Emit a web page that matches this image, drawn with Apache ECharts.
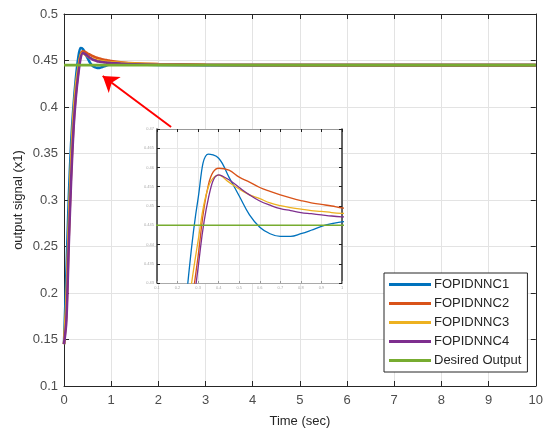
<!DOCTYPE html>
<html>
<head>
<meta charset="utf-8">
<script src="https://cdn.jsdelivr.net/npm/echarts@6/dist/echarts.min.js"></script>
<style>
  html, body { margin: 0; padding: 0; background: #fff; }
  #chart { width: 546px; height: 436px; }
</style>
</head>
<body>
<div id="chart"></div>
<script>
const time = [0, 0.05, 0.1, 0.15, 0.2, 0.25, 0.3, 0.35, 0.4, 0.45, 0.5, 0.55, 0.6, 0.65, 0.7, 0.75, 0.8, 0.85, 0.9, 0.95, 1.0, 1.2, 1.5, 2, 3, 5, 10];
const fopid1 = [0.145, 0.22, 0.30, 0.36, 0.40, 0.43, 0.452, 0.4635, 0.4624, 0.4575, 0.4526, 0.4477, 0.4445, 0.4428, 0.4421, 0.4421, 0.4428, 0.4437, 0.4447, 0.4454, 0.4459, 0.4462, 0.4458, 0.4453, 0.445, 0.445, 0.445];
const fopid2 = [0.145, 0.18, 0.26, 0.33, 0.38, 0.415, 0.437, 0.4555, 0.4598, 0.4593, 0.4575, 0.4562, 0.4548, 0.4538, 0.4529, 0.4521, 0.4514, 0.4508, 0.4504, 0.45, 0.4495, 0.4482, 0.447, 0.4462, 0.4455, 0.445, 0.445];
const fopid3 = [0.145, 0.19, 0.27, 0.34, 0.39, 0.422, 0.441, 0.455, 0.458, 0.4562, 0.4544, 0.4529, 0.4519, 0.4508, 0.4501, 0.4496, 0.4492, 0.4488, 0.4486, 0.4483, 0.4481, 0.4475, 0.4466, 0.446, 0.4454, 0.445, 0.445];
const fopid4 = [0.145, 0.17, 0.25, 0.32, 0.375, 0.41, 0.434, 0.452, 0.4581, 0.4568, 0.4548, 0.4529, 0.4513, 0.4502, 0.4493, 0.4488, 0.4483, 0.448, 0.4477, 0.4474, 0.4472, 0.4466, 0.4459, 0.4455, 0.4452, 0.445, 0.445];
const desiredTime = [0, 10];
const desired = [0.445, 0.445];

const names = ['FOPIDNNC1', 'FOPIDNNC2', 'FOPIDNNC3', 'FOPIDNNC4', 'Desired Output'];
const colors = ['#0072BD', '#D95319', '#EDB120', '#7E2F8E', '#77AC30'];

// arrow annotation, in data units (from, to)
const arrowFrom = [2.27, 0.3785];
const arrowTo = [0.82, 0.4333];

const font = "'Liberation Sans', Arial, sans-serif";
const axisColor = '#262626';
const gridColor = '#e3e3e3';

const pairs = (xs, ys) => xs.map((x, i) => [x, ys[i]]);
const curves = [
  pairs(time, fopid1),
  pairs(time, fopid2),
  pairs(time, fopid3),
  pairs(time, fopid4),
  pairs(desiredTime, desired),
];

const chart = echarts.init(document.getElementById('chart'));

const mainAxisBase = {
  type: 'value',
  axisLine: { show: true, onZero: false, lineStyle: { color: axisColor, width: 1 } },
  axisTick: { show: true, inside: true, length: 5, lineStyle: { color: axisColor } },
};
const insetAxisBase = {
  type: 'value',
  gridIndex: 1,
  z: 4,
  axisLine: { show: true, onZero: false, lineStyle: { color: '#333', width: 1.5 } },
  axisTick: { show: true, inside: true, length: 3, lineStyle: { color: '#222' } },
};

const series = [];
curves.forEach((data, i) => {
  series.push({
    name: names[i],
    type: 'line',
    xAxisIndex: 0,
    yAxisIndex: 0,
    data,
    smooth: 0.3,
    showSymbol: false,
    silent: true,
    z: 2,
    lineStyle: { color: colors[i], width: 2.6 },
    itemStyle: { color: colors[i] },
  });
});
// arrow on the main axes
series[4].markLine = {
  silent: true,
  symbol: ['none', 'arrow'],
  symbolSize: 15,
  label: { show: false },
  lineStyle: { color: '#ff0000', width: 2, type: 'solid' },
  data: [[{ coord: arrowFrom }, { coord: arrowTo }]],
};
// zoomed inset
curves.forEach((data, i) => {
  series.push({
    name: names[i] + ' zoom',
    type: 'line',
    xAxisIndex: 2,
    yAxisIndex: 2,
    data,
    smooth: 0.4,
    showSymbol: false,
    silent: true,
    z: 6,
    lineStyle: { color: colors[i], width: 1.3 },
  });
});

const option = {
  animation: false,
  textStyle: { fontFamily: font },
  legend: {
    data: names,
    orient: 'vertical',
    left: 384,
    top: 273,
    padding: [4, 6, 4, 5],
    itemGap: 4,
    itemWidth: 42,
    itemHeight: 3,
    icon: 'rect',
    backgroundColor: '#fff',
    borderColor: axisColor,
    borderWidth: 1,
    borderRadius: 0,
    z: 10,
    textStyle: { color: '#262626', fontSize: 13, lineHeight: 15, fontFamily: font, padding: [0, 0, 0, -2] },
  },
  grid: [
    { left: 64, right: 6, top: 14, bottom: 50 },
    { left: 157, top: 129, width: 185, height: 154, show: true, backgroundColor: '#fff', borderWidth: 0, z: 3 },
  ],
  xAxis: [
    {
      ...mainAxisBase,
      gridIndex: 0,
      position: 'bottom',
      min: 0, max: 10, interval: 1,
      axisLabel: { color: '#4d4d4d', fontSize: 13, margin: 8 },
      splitLine: { show: true, lineStyle: { color: gridColor } },
      name: 'Time (sec)',
      nameLocation: 'middle',
      nameGap: 29,
      nameMoveOverlap: false,
      nameTextStyle: { color: '#262626', fontSize: 13 },
    },
    {
      ...mainAxisBase,
      gridIndex: 0,
      position: 'top',
      min: 0, max: 10, interval: 1,
      axisLabel: { show: false },
      splitLine: { show: false },
    },
    {
      ...insetAxisBase,
      position: 'bottom',
      min: 0.1, max: 1.0, interval: 0.1,
      axisLine: { show: true, onZero: false, lineStyle: { color: '#aaa', width: 1 } },
      axisTick: { show: true, inside: true, length: 2, lineStyle: { color: '#999' } },
      axisLabel: { color: '#aaa', fontSize: 4, margin: 3 },
      splitLine: { show: true, lineStyle: { color: '#e6e6e6' } },
    },
    {
      ...insetAxisBase,
      position: 'top',
      min: 0.1, max: 1.0, interval: 0.1,
      axisLine: { show: true, onZero: false, lineStyle: { color: '#999', width: 1 } },
      axisLabel: { show: false },
      splitLine: { show: false },
    },
  ],
  yAxis: [
    {
      ...mainAxisBase,
      gridIndex: 0,
      position: 'left',
      min: 0.1, max: 0.5, interval: 0.05,
      axisLabel: { color: '#4d4d4d', fontSize: 13, margin: 6 },
      splitLine: { show: true, lineStyle: { color: gridColor } },
      name: 'output signal (x1)',
      nameLocation: 'middle',
      nameGap: 39,
      nameMoveOverlap: false,
      nameTextStyle: { color: '#262626', fontSize: 13 },
    },
    {
      ...mainAxisBase,
      gridIndex: 0,
      position: 'right',
      min: 0.1, max: 0.5, interval: 0.05,
      axisLabel: { show: false },
      splitLine: { show: false },
    },
    {
      ...insetAxisBase,
      position: 'left',
      min: 0.43, max: 0.47, interval: 0.005,
      axisLabel: { color: '#aaa', fontSize: 4, margin: 3 },
      splitLine: { show: true, lineStyle: { color: '#e6e6e6' } },
    },
    {
      ...insetAxisBase,
      position: 'right',
      min: 0.43, max: 0.47, interval: 0.005,
      axisLabel: { show: false },
      splitLine: { show: false },
    },
  ],
  series,
};

chart.setOption(option);
</script>
</body>
</html>
